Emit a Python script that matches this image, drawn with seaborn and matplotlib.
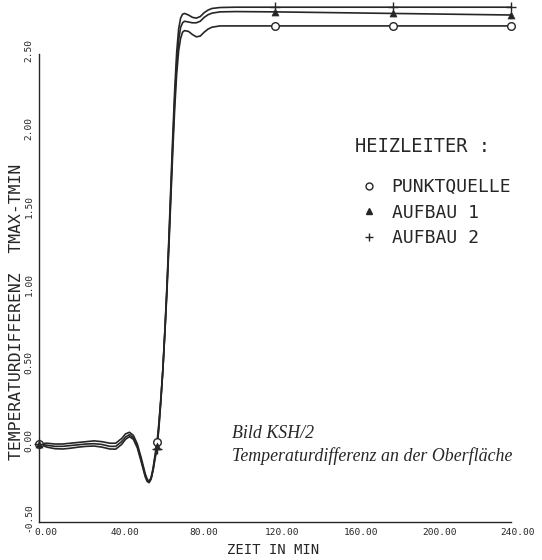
import matplotlib
matplotlib.use('Agg')
import matplotlib.pyplot as plt
import matplotlib.transforms as mtransforms
from matplotlib.lines import Line2D
import pandas as pd
import seaborn as sns

# time axis (minutes)
zeit = [0, 4, 8, 12, 16, 20, 24, 28, 32, 36,
        39, 42, 44, 46, 48, 50, 52, 54, 55, 56,
        57, 58, 59, 60, 61, 62, 63, 64, 65, 66,
        67, 68, 69, 70, 71, 72, 73, 74, 76, 78,
        80, 82, 84, 86, 88, 92, 100, 120, 150, 180,
        210, 240]

punktquelle = [0.0, 0.005, 0.0, 0.0, 0.005, 0.01, 0.015, 0.02, 0.015, 0.005,
               0.005, 0.035, 0.065, 0.075, 0.055, 0.0, -0.09, -0.19, -0.225, -0.24,
               -0.215, -0.155, -0.07, 0.01, 0.14, 0.3, 0.48, 0.71, 0.96, 1.25,
               1.56, 1.87, 2.15, 2.37, 2.52, 2.6, 2.64, 2.65, 2.645, 2.625,
               2.61, 2.615, 2.64, 2.66, 2.672, 2.68, 2.68, 2.68, 2.68, 2.68,
               2.68, 2.68]

aufbau1 = [0.0, -0.008, -0.015, -0.015, -0.01, -0.005, 0.0, 0.002, -0.003, -0.015,
           -0.015, 0.015, 0.045, 0.06, 0.04, -0.015, -0.105, -0.2, -0.232, -0.243,
           -0.22, -0.165, -0.085, -0.015, 0.12, 0.29, 0.48, 0.72, 0.98, 1.28,
           1.6, 1.92, 2.21, 2.44, 2.59, 2.67, 2.70, 2.71, 2.705, 2.70,
           2.70, 2.71, 2.735, 2.752, 2.762, 2.77, 2.772, 2.77, 2.765, 2.76,
           2.755, 2.75]

aufbau2 = [0.0, -0.02, -0.03, -0.032, -0.027, -0.02, -0.015, -0.013, -0.02, -0.032,
           -0.033, -0.003, 0.03, 0.047, 0.03, -0.025, -0.115, -0.21, -0.24, -0.248,
           -0.225, -0.17, -0.095, -0.03, 0.11, 0.28, 0.48, 0.73, 1.0, 1.31,
           1.64, 1.97, 2.27, 2.51, 2.66, 2.73, 2.755, 2.76, 2.75, 2.735,
           2.73, 2.74, 2.765, 2.782, 2.792, 2.798, 2.8, 2.8, 2.8, 2.8,
           2.8, 2.8]

serien = ['PUNKTQUELLE', 'AUFBAU 1', 'AUFBAU 2']
marker_zeit = [0, 60, 120, 180, 240]
x_ticks = [0, 40, 80, 120, 160, 200, 240]
y_ticks = [-0.5, 0.0, 0.5, 1.0, 1.5, 2.0, 2.5]

# long form table for seaborn
df = pd.concat([
    pd.DataFrame({'zeit': zeit, 'wert': punktquelle, 'serie': serien[0]}),
    pd.DataFrame({'zeit': zeit, 'wert': aufbau1, 'serie': serien[1]}),
    pd.DataFrame({'zeit': zeit, 'wert': aufbau2, 'serie': serien[2]}),
], ignore_index=True)
df_m = df[df['zeit'].isin(marker_zeit)]

sns.set_style('white')
plt.rcParams['font.family'] = ['DejaVu Sans Mono', 'DejaVu Sans']
plt.rcParams['axes.unicode_minus'] = False

ink = '#262626'

fig = plt.figure(figsize=(5.42, 5.60), dpi=100)
ax = fig.add_axes([39 / 542, 38 / 560, 472 / 542, 3.33 * 156 / 560])

sns.lineplot(data=df, x='zeit', y='wert', hue='serie', palette=[ink] * 3,
             estimator=None, sort=False, legend=False, linewidth=1.2, ax=ax)
for line in ax.lines:
    line.set_clip_on(False)

# markers for each curve
stil = {
    'PUNKTQUELLE': dict(marker='o', s=30, facecolor='white', edgecolor=ink, linewidth=1.0),
    'AUFBAU 1': dict(marker='^', s=26, color=ink, edgecolor=ink),
    'AUFBAU 2': dict(marker='+', s=45, color=ink, linewidth=1.0),
}
for s in serien:
    sub = df_m[df_m['serie'] == s]
    sns.scatterplot(data=sub, x='zeit', y='wert', ax=ax, zorder=3, clip_on=False,
                    legend=False, **stil[s])

ax.set_xlim(0, 240)
ax.set_ylim(-0.5, 2.83)
sns.despine(ax=ax)
ax.spines['left'].set_bounds(-0.5, 2.5)
ax.spines['bottom'].set_bounds(0, 240)
for sp in ['left', 'bottom']:
    ax.spines[sp].set_color(ink)
    ax.spines[sp].set_linewidth(1.0)

ax.set_xticks(x_ticks)
ax.set_xticklabels(['%.2f' % v for v in x_ticks])
ax.set_yticks(y_ticks)
ax.set_yticklabels(['%.2f' % v for v in y_ticks], rotation=90, va='center')
ax.tick_params(axis='both', direction='in', length=4, width=1.0, color=ink,
               labelsize=6.8, labelcolor=ink)
ax.tick_params(axis='x', pad=4)
ax.tick_params(axis='y', pad=4)
ax.set_xlabel('')
ax.set_ylabel('')

# plotter style: labels sit a bit right / above the ticks
dx = mtransforms.ScaledTranslation(7 / 100, 0, fig.dpi_scale_trans)
for lab in ax.get_xticklabels():
    lab.set_transform(lab.get_transform() + dx)
dy = mtransforms.ScaledTranslation(0, 4 / 100, fig.dpi_scale_trans)
for lab in ax.get_yticklabels():
    lab.set_transform(lab.get_transform() + dy)

fig.text(273 / 542, 1 - 550 / 560, 'ZEIT IN MIN', ha='center', va='center',
         fontsize=10, color=ink)
fig.text(17 / 542, 1 - 312 / 560, 'TEMPERATURDIFFERENZ  TMAX-TMIN', rotation=90,
         ha='center', va='center', fontsize=11.8, color=ink)

# legend
fig.text(355 / 542, 1 - 147 / 560, 'HEIZLEITER :', ha='left', va='center',
         fontsize=13.5, color=ink)
handles = [
    Line2D([], [], linestyle='None', marker='o', markersize=5, markerfacecolor='white',
           markeredgecolor=ink),
    Line2D([], [], linestyle='None', marker='^', markersize=5, color=ink),
    Line2D([], [], linestyle='None', marker='+', markersize=6, color=ink),
]
ax.legend(handles, serien, loc='upper left', bbox_to_anchor=(360 / 542, 1 - 178 / 560),
          bbox_transform=fig.transFigure, frameon=False, fontsize=13,
          handlelength=1.0, handletextpad=0.75, labelspacing=0.42, borderpad=0,
          borderaxespad=0, labelcolor=ink)

# caption
fig.text(232 / 542, 1 - 434 / 560, 'Bild KSH/2', ha='left', va='center',
         fontsize=12.9, fontstyle='italic', family=['Liberation Serif', 'DejaVu Serif'],
         color=ink)
fig.text(232 / 542, 1 - 456 / 560, 'Temperaturdifferenz an der Oberfläche', ha='left',
         va='center', fontsize=12.9, fontstyle='italic',
         family=['Liberation Serif', 'DejaVu Serif'], color=ink)

fig.savefig('out.png', dpi=100)
